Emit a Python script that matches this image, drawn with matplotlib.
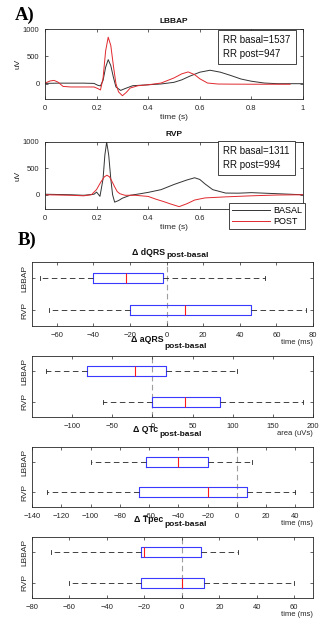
import matplotlib
matplotlib.use('Agg')
import matplotlib.pyplot as plt

plt.rcParams['font.family'] = ['Liberation Sans', 'DejaVu Sans']
plt.rcParams['lines.scale_dashes'] = False

# ---- A) averaged beats ----
lbbap_basal_t = [0, 0.05, 0.1, 0.15, 0.19, 0.205, 0.215, 0.225, 0.235, 0.245, 0.255, 0.265, 0.275,
                 0.293, 0.31, 0.34, 0.4, 0.45, 0.5, 0.53, 0.56, 0.6, 0.64, 0.68, 0.72, 0.76, 0.8,
                 0.85, 0.9, 0.95, 1.0]
lbbap_basal_v = [5, 10, 10, 10, 5, -30, -40, 60, 300, 440, 330, 120, -60,
                 -123, -90, -37, -20, -5, 25, 70, 135, 210, 246, 210, 150, 85, 45,
                 12, 0, 0, 0]
lbbap_post_t = [0, 0.02, 0.035, 0.05, 0.07, 0.1, 0.15, 0.19, 0.205, 0.215, 0.225, 0.235, 0.245,
                0.255, 0.265, 0.275, 0.285, 0.3, 0.315, 0.33, 0.36, 0.4, 0.45, 0.5, 0.53, 0.555,
                0.58, 0.6, 0.63, 0.67, 0.72, 0.8, 0.95]
lbbap_post_v = [10, 50, 60, 30, -50, -60, -60, -60, -90, -115, 100, 600, 850,
                700, 330, 0, -150, -220, -160, -80, -37, -20, 12, 105, 180, 215,
                165, 90, 12, -6, -8, -10, -10]
rvp_basal_t = [0, 0.05, 0.1, 0.15, 0.19, 0.2, 0.213, 0.225, 0.232, 0.239, 0.247, 0.255, 0.262,
               0.27, 0.285, 0.3, 0.33, 0.37, 0.4, 0.45, 0.5, 0.55, 0.58, 0.6, 0.62, 0.65, 0.7,
               0.75, 0.8, 0.85, 0.9, 1.0]
rvp_basal_v = [10, 5, 0, -10, 10, 50, -30, 300, 750, 1000, 750, 300, 0,
               -140, -110, -65, -10, 20, 45, 97, 195, 280, 322, 290, 206, 97, 32,
               30, 40, 30, 20, 0]
rvp_post_t = [0, 0.05, 0.1, 0.15, 0.18, 0.2, 0.215, 0.23, 0.24, 0.25, 0.26, 0.27, 0.28, 0.29,
              0.31, 0.35, 0.4, 0.43, 0.46, 0.49, 0.52, 0.55, 0.58, 0.62, 0.7, 0.8, 0.9, 1.0]
rvp_post_v = [0, -5, -10, -20, 0, 100, 230, 340, 370, 340, 250, 150, 60, 20,
              -10, -10, -32, -84, -130, -180, -225, -170, -100, -60, -40, -20, -5, 0]
rr_text = ['RR basal=1537\nRR post=947', 'RR basal=1311\nRR post=994']

# ---- B) box plots: whisker low, q1, median, q3, whisker high ----
groups = ['RVP', 'LBBAP']
dqrs_rvp = [-64, -20, 10, 46, 76]
dqrs_lbbap = [-69, -40, -22, -2, 54]
aqrs_rvp = [-62, -1, 40, 84, 187]
aqrs_lbbap = [-133, -81, -22, 17, 105]
qtc_rvp = [-130, -67, -20, 7, 40]
qtc_lbbap = [-100, -62, -40, -20, 10]
tpec_rvp = [-60, -22, 0, 12, 60]
tpec_lbbap = [-70, -22, -20, 10, 30]

W, H = 323, 624
fig = plt.figure(figsize=(W / 100, H / 100), dpi=100)
grey = '#262626'
dash = (0, (4, 2.5))


def px_axes(left, top, right, bottom):
    # axes placed by pixel edges measured on the reference
    return fig.add_axes([left / W, 1 - bottom / H, (right - left) / W, (bottom - top) / H])


def style(ax):
    for s in ax.spines.values():
        s.set_color(grey)
        s.set_linewidth(0.6)
    ax.tick_params(direction='in', top=True, right=True, length=2.5, width=0.5,
                   labelsize=5.5, labelcolor=grey, color=grey, pad=4)


# ECG panels
ecg = [
    (29, 99, 'LBBAP', lbbap_basal_t, lbbap_basal_v, lbbap_post_t, lbbap_post_v, (-280, 1000), 0.74),
    (142, 209, 'RVP', rvp_basal_t, rvp_basal_v, rvp_post_t, rvp_post_v, (-270, 1000), 0.76),
]
for i, (top, bot, name, bt, bv, pt, pv, yl, ty) in enumerate(ecg):
    ax = px_axes(45, top, 303, bot)
    style(ax)
    ax.plot(bt, bv, color='#333333', lw=0.7, label='BASAL')
    ax.plot(pt, pv, color='#e0282d', lw=0.7, label='POST')
    ax.set_xlim(0, 1)
    ax.set_ylim(*yl)
    ax.set_yticks([0, 500, 1000])
    ax.set_xticks([0, 0.2, 0.4, 0.6, 0.8, 1.0], ['0', '0.2', '0.4', '0.6', '0.8', '1'])
    ax.set_title(name, fontsize=6, fontweight='bold', pad=4, color='#111111')
    ax.set_xlabel('time (s)', fontsize=6, color=grey, labelpad=1.5)
    ax.set_ylabel('uV', fontsize=6, color=grey)
    ax.yaxis.set_label_coords(-0.09, 0.5)
    ax.text(0.69, ty, rr_text[i], transform=ax.transAxes, fontsize=7,
            ha='left', va='center', linespacing=1.45, color='#111111',
            bbox=dict(boxstyle='square,pad=0.55', fc='white', ec=grey, lw=0.6))
    if i == 1:
        leg = ax.legend(loc='upper right', bbox_to_anchor=(1.008, 0.09), fontsize=6.5,
                        fancybox=False, edgecolor=grey, framealpha=1, handlelength=4.2,
                        handletextpad=0.3, labelspacing=0.2, borderpad=0.35, borderaxespad=0)
        leg.get_frame().set_linewidth(0.6)

fig.text(25 / W, 1 - 15.5 / H, 'A)', family='Liberation Serif', fontweight='bold',
         fontsize=13.5, ha='center', va='center')
fig.text(27 / W, 1 - 240 / H, 'B)', family='Liberation Serif', fontweight='bold',
         fontsize=13.5, ha='center', va='center')

# box plot panels
boxes = [
    (262, 326, 'dQRS', dqrs_rvp, dqrs_lbbap, (-73.5, 80), range(-60, 81, 20), 'time (ms)', 0.475, 10, 7),
    (356, 417, 'aQRS', aqrs_rvp, aqrs_lbbap, (-150, 200), range(-100, 201, 50), 'area (uVs)', 0.468, 16, 9),
    (447, 507, 'QTc', qtc_rvp, qtc_lbbap, (-140, 52), range(-140, 41, 20), 'time (ms)', 0.45, 17, 13),
    (537, 598, 'Tpec', tpec_rvp, tpec_lbbap, (-80, 70), range(-80, 61, 20), 'time (ms)', 0.466, 17, 12),
]
for top, bot, name, rvp, lbbap, xl, ticks, xlab, split, dy_main, dy_sub in boxes:
    ax = px_axes(32, top, 313, bot)
    style(ax)
    stats = [dict(whislo=v[0], q1=v[1], med=v[2], q3=v[3], whishi=v[4], fliers=[])
             for v in (rvp, lbbap)]
    ax.axvline(0, color='0.62', lw=0.8, linestyle=dash, zorder=0)
    ax.bxp(stats, positions=[1, 2], widths=0.32, orientation='horizontal', showfliers=False,
           boxprops=dict(color='#3a3aff', lw=0.8),
           medianprops=dict(color='#ff1a1a', lw=0.8),
           whiskerprops=dict(color='#222222', lw=0.6, linestyle=dash),
           capprops=dict(color='#222222', lw=0.6), capwidths=0.14)
    ax.set_xlim(*xl)
    ax.set_ylim(0.5, 2.5)
    ax.set_xticks(list(ticks))
    ax.set_yticks([1, 2], groups, rotation=90, va='center', ha='right', fontsize=6)
    ax.tick_params(axis='y', pad=2.5)
    ax.set_xlabel(xlab, fontsize=5.5, color=grey, ha='right', labelpad=0)
    ax.xaxis.label.set_position((1.0, 0))
    # title: main part plus lowered "post-basal" subscript
    ax.annotate('\u0394 ' + name, xy=(split, 1), xycoords='axes fraction', xytext=(0, dy_main),
                textcoords='offset pixels', ha='right', va='center', fontsize=6.3,
                fontweight='bold', color='#111111')
    ax.annotate('post-basal', xy=(split, 1), xycoords='axes fraction', xytext=(1, dy_sub),
                textcoords='offset pixels', ha='left', va='center', fontsize=6.0,
                fontweight='bold', color='#111111')

fig.savefig('out.png', dpi=100)
